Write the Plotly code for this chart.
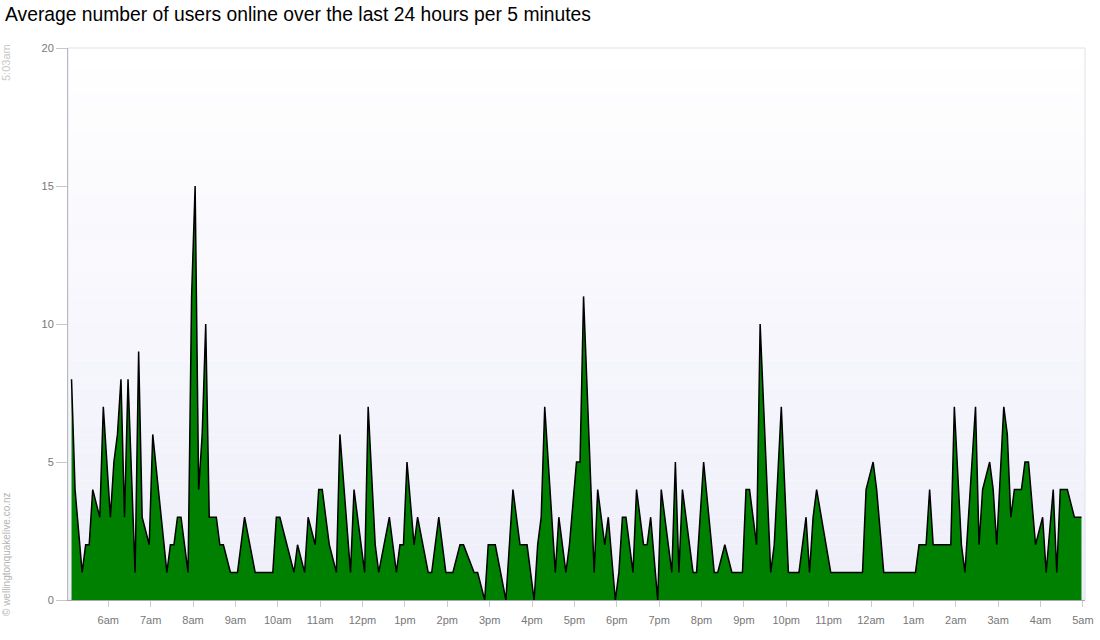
import plotly.graph_objects as go
from datetime import datetime, timedelta

# ---- data (5-minute slots since 05:08 yesterday, average users online) ----
start_time = datetime(2024, 1, 1, 5, 8)
slots = [0, 1, 3, 4, 5, 6, 8, 9, 11, 12, 13, 14, 15, 16, 18, 19, 20, 22, 23, 27,
         28, 29, 30, 31, 33, 34, 35, 36, 37, 38, 39, 41, 42, 43, 45, 47, 49, 52, 57, 58,
         59, 63, 64, 66, 67, 69, 70, 71, 73, 75, 76, 79, 80, 83, 84, 86, 87, 90, 92, 93,
         94, 95, 97, 98, 101, 102, 104, 106, 108, 110, 111, 114, 115, 117, 118, 120, 123, 125, 127, 129,
         131, 132, 133, 134, 137, 138, 140, 141, 143, 144, 145, 148, 149, 151, 152, 154, 155, 156, 157, 159,
         160, 162, 163, 164, 166, 167, 170, 171, 172, 173, 174, 176, 177, 178, 179, 182, 183, 185, 187, 190,
         191, 192, 194, 195, 198, 199, 201, 203, 206, 208, 209, 210, 211, 215, 224, 225, 227, 228, 230, 239,
         240, 242, 243, 244, 249, 250, 252, 253, 256, 257, 258, 260, 261, 262, 264, 265, 266, 267, 269, 270,
         271, 273, 275, 276, 278, 279, 280, 282, 284, 286]
users = [8, 4, 1, 2, 2, 4, 3, 7, 3, 5, 6, 8, 3, 8, 1, 9, 3, 2, 6, 1,
         2, 2, 3, 3, 1, 11, 15, 4, 6, 10, 3, 3, 2, 2, 1, 1, 3, 1, 1, 3,
         3, 1, 2, 1, 3, 2, 4, 4, 2, 1, 6, 1, 4, 1, 7, 2, 1, 3, 1, 2,
         2, 5, 2, 3, 1, 1, 3, 1, 1, 2, 2, 1, 1, 0, 2, 2, 0, 4, 2, 2,
         0, 2, 3, 7, 1, 3, 1, 2, 5, 5, 11, 1, 4, 2, 3, 0, 1, 3, 3, 1,
         4, 2, 2, 3, 0, 4, 1, 5, 1, 4, 3, 1, 1, 3, 5, 1, 1, 2, 1, 1,
         4, 4, 2, 10, 1, 2, 7, 1, 1, 3, 1, 3, 4, 1, 1, 4, 5, 4, 1, 1,
         2, 2, 4, 2, 2, 7, 2, 1, 7, 2, 4, 5, 4, 2, 7, 6, 3, 4, 4, 5,
         5, 2, 3, 1, 4, 1, 4, 4, 3, 3]
hour_labels = ["6am", "7am", "8am", "9am", "10am", "11am", "12pm", "1pm", "2pm", "3pm",
               "4pm", "5pm", "6pm", "7pm", "8pm", "9pm", "10pm", "11pm", "12am", "1am",
               "2am", "3am", "4am", "5am"]
y_ticks = [0, 5, 10, 15, 20]

times = [start_time + timedelta(minutes=5 * s) for s in slots]
first_tick = datetime(2024, 1, 1, 6, 0)
tick_times = [first_tick + timedelta(hours=h) for h in range(len(hour_labels))]
range_start = datetime(2024, 1, 1, 5, 3)
range_end = datetime(2024, 1, 2, 5, 3)

FONT = "Liberation Sans, Arial, sans-serif"

fig = go.Figure()
fig.add_trace(go.Scatter(
    x=times, y=users, mode="lines", fill="tozeroy",
    fillcolor="#008000", line=dict(color="#000000", width=1.5),
    hoverinfo="x+y", showlegend=False,
))

# vertical gradient background (white -> pale lavender)
shapes = []
n = 60
top_c = (255, 255, 255)
bot_c = (238, 238, 250)
for k in range(n):
    t = (k + 0.5) / n
    c = tuple(round(bot_c[j] + (top_c[j] - bot_c[j]) * t) for j in range(3))
    shapes.append(dict(type="rect", xref="paper", yref="paper", x0=0, x1=1,
                       y0=k / n, y1=(k + 1) / n, fillcolor="rgb(%d,%d,%d)" % c,
                       line=dict(width=0), layer="below"))
shapes.append(dict(type="rect", xref="paper", yref="paper", x0=0, x1=1, y0=0, y1=1,
                   line=dict(color="#e2e2ea", width=1), fillcolor="rgba(0,0,0,0)",
                   layer="below"))

fig.update_layout(
    width=1100, height=640,
    margin=dict(l=68, r=15, t=48, b=40, autoexpand=False),
    paper_bgcolor="white", plot_bgcolor="white",
    font=dict(family=FONT),
    title=dict(text="Average number of users online over the last 24 hours per 5 minutes",
               font=dict(family=FONT, size=19.3, color="#000000"),
               xref="container", x=5 / 1100, xanchor="left",
               yref="container", y=1 - 14 / 640, yanchor="middle"),
    shapes=shapes,
    xaxis=dict(type="date", range=[range_start, range_end],
               tickvals=tick_times, ticktext=hour_labels,
               ticks="outside", ticklen=6, tickcolor="#cccccc",
               ticklabelstandoff=4,
               tickfont=dict(size=11, color="#777777"),
               showline=True, linecolor="#a8a8b0", linewidth=1,
               showgrid=False, zeroline=False, automargin=False),
    yaxis=dict(range=[0, 20], tickvals=y_ticks,
               ticks="outside", ticklen=11, tickcolor="#c8c8c8",
               tickfont=dict(size=11, color="#777777"),
               showline=True, linecolor="#b8b8c4", linewidth=1,
               showgrid=False, zeroline=False, automargin=False),
    annotations=[
        dict(text="5:03am", xref="paper", yref="paper", x=(6 - 68) / 1017,
             y=(600 - 63) / 552, xanchor="center", yanchor="middle",
             showarrow=False, textangle=-90,
             font=dict(family=FONT, size=11, color="#c8c8c8")),
        dict(text="© wellingtonquakelive.co.nz", xref="paper", yref="paper",
             x=(6 - 68) / 1017, y=(600 - 554) / 552, xanchor="center", yanchor="middle",
             showarrow=False, textangle=-90,
             font=dict(family=FONT, size=10, color="#b4b4b4")),
    ],
)

fig.write_html("out.html",
               config={"displayModeBar": False},
               post_script="document.body.style.margin='0';document.body.style.overflow='hidden';")
